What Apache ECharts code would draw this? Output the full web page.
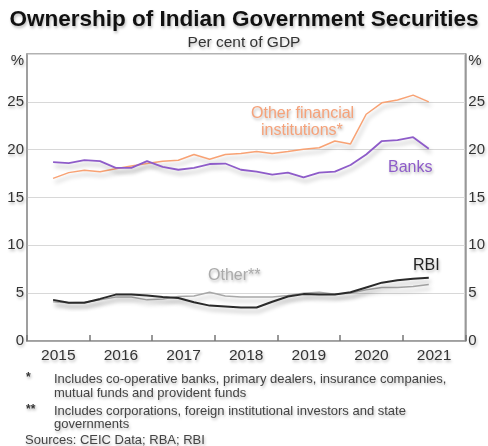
<!DOCTYPE html>
<html>
<head>
<meta charset="utf-8">
<script src="https://cdn.jsdelivr.net/npm/echarts@6/dist/echarts.min.js"></script>
<style>
  html, body { margin: 0; padding: 0; background: #fff; }
  #chart { width: 488px; height: 446px; }
</style>
</head>
<body>
<div id="chart"></div>
<script>
// Quarterly observations, June 2015 to June 2021 (year, month)
const quarters = [
  [2015, 6], [2015, 9], [2015, 12], [2016, 3], [2016, 6], [2016, 9], [2016, 12],
  [2017, 3], [2017, 6], [2017, 9], [2017, 12], [2018, 3], [2018, 6], [2018, 9],
  [2018, 12], [2019, 3], [2019, 6], [2019, 9], [2019, 12], [2020, 3], [2020, 6],
  [2020, 9], [2020, 12], [2021, 3], [2021, 6]
];

// Per cent of GDP
const banks = [18.7, 18.6, 18.9, 18.8, 18.1, 18.1, 18.8, 18.2, 17.9, 18.1, 18.5, 18.55, 17.9,
  17.7, 17.4, 17.6, 17.1, 17.6, 17.7, 18.4, 19.5, 20.9, 21.0, 21.3, 20.1];
const otherFinancial = [17.0, 17.6, 17.85, 17.7, 18.0, 18.3, 18.55, 18.8, 18.9, 19.5, 19.0, 19.5, 19.6,
  19.8, 19.6, 19.8, 20.05, 20.2, 20.9, 20.6, 23.7, 24.9, 25.2, 25.7, 25.0];
const rbi = [4.3, 4.0, 4.0, 4.4, 4.85, 4.85, 4.75, 4.6, 4.5, 4.05, 3.7, 3.6, 3.5,
  3.5, 4.1, 4.65, 4.9, 4.85, 4.85, 5.1, 5.6, 6.1, 6.35, 6.5, 6.6];
const other = [4.1, 4.0, 4.05, 4.3, 4.6, 4.6, 4.3, 4.4, 4.65, 4.7, 5.1, 4.7, 4.6,
  4.6, 4.6, 4.75, 5.0, 5.1, 4.9, 5.0, 5.35, 5.6, 5.6, 5.7, 5.9];

const yearLabels = ['2015', '2016', '2017', '2018', '2019', '2020', '2021'];

const footnotes = [
  { mark: '*', lines: ['Includes co-operative banks, primary dealers, insurance companies,', 'mutual funds and provident funds'] },
  { mark: '**', lines: ['Includes corporations, foreign institutional investors and state', 'governments'] }
];
const sources = 'Sources: CEIC Data; RBA; RBI';

const FONT = 'Liberation Sans, Arial, sans-serif';
const SHADOW = 'rgba(0,0,0,0.28)';

function toPairs(values) {
  return values.map((v, i) => [quarters[i][0] + (quarters[i][1] - 1) / 12, v]);
}

function lineSeries(name, values, color, width) {
  return {
    name: name,
    type: 'line',
    xAxisIndex: 0,
    yAxisIndex: 0,
    data: toPairs(values),
    symbol: 'none',
    smooth: false,
    lineStyle: {
      color: color, width: width,
      shadowColor: SHADOW, shadowBlur: 4, shadowOffsetX: 2, shadowOffsetY: 4
    },
    z: 3
  };
}

const textShadow = { textShadowColor: SHADOW, textShadowBlur: 3, textShadowOffsetX: 1, textShadowOffsetY: 2 };

const yAxisCommon = {
  type: 'value',
  min: 0, max: 30, interval: 5,
  axisLine: { show: true, lineStyle: { color: '#999', width: 1.5 } },
  axisTick: { show: false },
  splitLine: { show: false },
  axisLabel: Object.assign({
    color: '#333', fontSize: 15, fontFamily: FONT, margin: 3,
    formatter: v => v === 30 ? '{p|%}' : String(v),
    rich: { p: Object.assign({ color: '#333', fontSize: 15, fontFamily: FONT, padding: [14, 0, 0, 0] }, textShadow) }
  }, textShadow)
};

const graphics = [
  { type: 'text', left: 'center', top: 8,
    style: Object.assign({ text: 'Ownership of Indian Government Securities', font: 'bold 22.5px ' + FONT, fill: '#111' }, textShadow) },
  { type: 'text', left: 'center', top: 35,
    style: Object.assign({ text: 'Per cent of GDP', font: '15.5px ' + FONT, fill: '#333' }, textShadow) },
  { type: 'text', left: 251, top: 106,
    style: Object.assign({ text: 'Other financial', font: '16px ' + FONT, fill: '#f5a27a' }, textShadow) },
  { type: 'text', left: 261, top: 123,
    style: Object.assign({ text: 'institutions*', font: '16px ' + FONT, fill: '#f5a27a' }, textShadow) },
  { type: 'text', left: 388, top: 160,
    style: Object.assign({ text: 'Banks', font: '16px ' + FONT, fill: '#8e5cc9' }, textShadow) },
  { type: 'text', left: 208, top: 268,
    style: Object.assign({ text: 'Other**', font: '16px ' + FONT, fill: '#aaa' }, textShadow) },
  { type: 'text', left: 413, top: 258,
    style: Object.assign({ text: 'RBI', font: '16px ' + FONT, fill: '#222' }, textShadow) }
];

let fy = 373;
footnotes.forEach(f => {
  graphics.push({ type: 'text', left: 26, top: fy - 1,
    style: Object.assign({ text: f.mark, font: 'bold 12px ' + FONT, fill: '#333' }, textShadow) });
  f.lines.forEach((ln, i) => {
    graphics.push({ type: 'text', left: 54, top: fy + i * 13.5,
      style: Object.assign({ text: ln, font: '13px ' + FONT, fill: '#444' }, textShadow) });
  });
  fy += 31.5;
});
graphics.push({ type: 'text', left: 25, top: 434,
  style: Object.assign({ text: sources, font: '13px ' + FONT, fill: '#444' }, textShadow) });

const chart = echarts.init(document.getElementById('chart'), null, { renderer: 'canvas' });
chart.setOption({
  animation: false,
  backgroundColor: '#fff',
  grid: { left: 27, right: 22, top: 54, bottom: 105, show: true, borderColor: '#999', borderWidth: 1.5, containLabel: false },
  xAxis: [
    {
      type: 'value', min: 2015, max: 2022, position: 'bottom',
      axisLine: { show: false }, axisTick: { show: false }, axisLabel: { show: false }, splitLine: { show: false }
    },
    {
      type: 'category', data: yearLabels, boundaryGap: true, position: 'bottom',
      axisLine: { show: true, lineStyle: { color: '#999', width: 1.5 } },
      axisTick: { show: true, inside: true, length: 6, lineStyle: { color: '#777', width: 1.5 } },
      axisLabel: Object.assign({ color: '#333', fontSize: 15.5, fontFamily: FONT, margin: 7 }, textShadow),
      splitLine: { show: false }
    }
  ],
  yAxis: [
    Object.assign({}, yAxisCommon, {
      position: 'left',
      splitLine: { show: true, lineStyle: { color: '#d8d8d8', width: 1 } }
    }),
    Object.assign({}, yAxisCommon, { position: 'right' })
  ],
  series: [
    lineSeries('Other', other, '#a8a8a8', 1.5),
    lineSeries('RBI', rbi, '#2a2a2a', 2),
    lineSeries('Other financial institutions', otherFinancial, '#f8a274', 1.5),
    lineSeries('Banks', banks, '#8e5cc9', 1.8)
  ],
  graphic: graphics
});
</script>
</body>
</html>
